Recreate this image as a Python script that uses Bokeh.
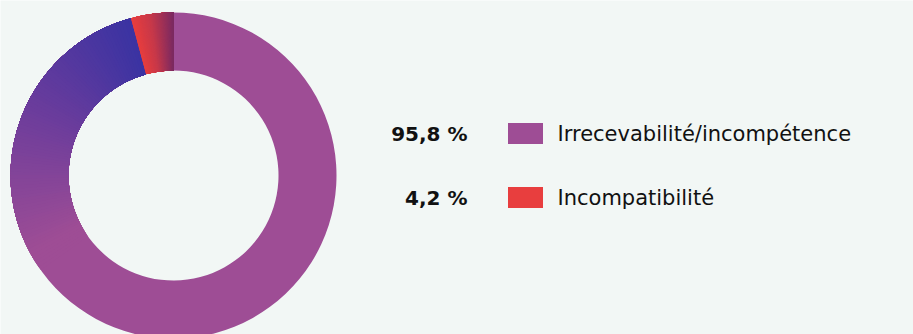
from bokeh.plotting import figure
from bokeh.models import Range1d
from bokeh.core.properties import value
from bokeh.embed import file_html
from bokeh.resources import INLINE
import numpy as np

# ---- data ----
categories = ["Irrecevabilité/incompétence", "Incompatibilité"]
shares = [95.8, 4.2]
value_labels = ["95,8 %", "4,2 %"]
colors = ["#9e4d95", "#e83e3e"]

# ---- style ----
BG = "#f2f7f5"
W, H = 913, 334
cx, cy = 173, H - 175
r_in, r_out = 105, 163

p = figure(width=W, height=H, output_backend="svg", toolbar_location=None,
           x_range=Range1d(0, W), y_range=Range1d(0, H), min_border=0)
p.axis.visible = False
p.grid.visible = False
p.outline_line_color = None
p.background_fill_color = BG
p.border_fill_color = BG


def hex2rgb(h):
    h = h.lstrip("#")
    return np.array([int(h[i:i + 2], 16) for i in (0, 2, 4)], dtype=float)


def rgb2hex(c):
    c = np.clip(np.round(c), 0, 255).astype(int)
    return "#%02x%02x%02x" % tuple(c)


def grad_color(stops, t):
    for (t0, c0), (t1, c1) in zip(stops[:-1], stops[1:]):
        if t <= t1:
            f = 0 if t1 == t0 else (t - t0) / (t1 - t0)
            f = min(max(f, 0), 1)
            return rgb2hex(hex2rgb(c0) * (1 - f) + hex2rgb(c1) * f)
    return stops[-1][1]


# gradient stops along each slice (t=0 at its clockwise start, t=1 at its end)
gradients = [
    [(0.0, colors[0]), (0.70, colors[0]), (0.86, "#6a3c9c"), (1.0, "#3a33a2")],
    [(0.0, colors[1]), (0.45, "#c7394a"), (1.0, "#7a2a62")],
]
grad_from = [0.68, 0.0]

total = sum(shares)
cum = 0.0
starts, ends, fills = [], [], []
for share, stops, g0 in zip(shares, gradients, grad_from):
    a0 = np.pi / 2 - cum / total * 2 * np.pi
    a1 = np.pi / 2 - (cum + share) / total * 2 * np.pi
    cum += share
    # solid base covering the whole slice
    starts.append(a1)
    ends.append(a0)
    fills.append(grad_color(stops, 0.0))
    # gradient overlays: each piece runs from its own start to the slice end
    n = 90
    ts = np.linspace(g0, 1, n + 1)[:-1]
    for t in ts:
        a_t = a0 + (a1 - a0) * t
        starts.append(a1)
        ends.append(a_t)
        fills.append(grad_color(stops, t + 0.5 * (1 - g0) / n))

p.annular_wedge(x=cx, y=cy, inner_radius=r_in, outer_radius=r_out,
                start_angle=starts, end_angle=ends, fill_color=fills,
                line_color=None, direction="anticlock")

# legend
row_y = [H - 133, H - 197]
p.text(x=[467] * 2, y=row_y, text=value_labels, text_align="right",
       text_baseline="middle", text_font=value("DejaVu Sans"),
       text_font_style="bold", text_font_size="20px", text_color="#111111")
p.rect(x=[525] * 2, y=row_y, width=35, height=21, fill_color=colors,
       line_color=None)
p.text(x=[557] * 2, y=row_y, text=categories, text_align="left",
       text_baseline="middle", text_font=value("DejaVu Sans"),
       text_font_size="21px", text_color="#111111")

open("out.html", "w").write(file_html(p, INLINE))
